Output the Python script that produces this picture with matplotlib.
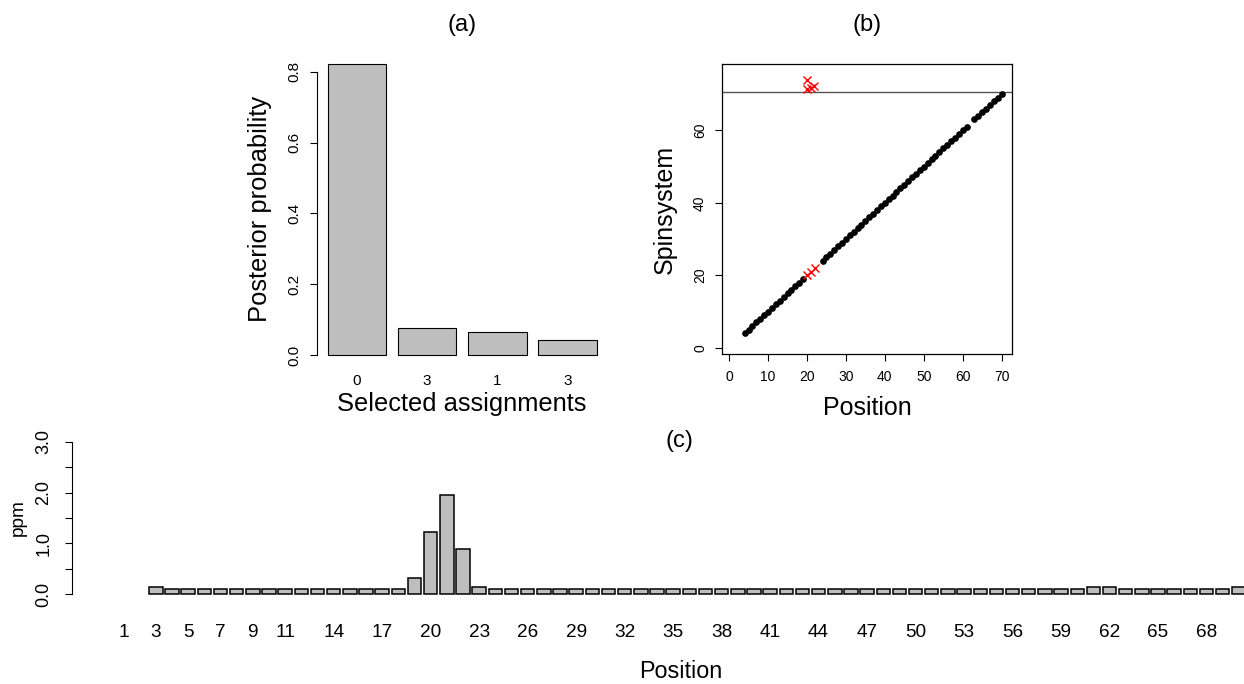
import numpy as np
import matplotlib
matplotlib.use("Agg")
import matplotlib.pyplot as plt

plt.rcParams['font.family'] = ['Liberation Sans', 'DejaVu Sans']

# ---------------- data ----------------
# (a) posterior probabilities of selected assignments
assign_labels = ["0", "3", "1", "3"]
posterior = [0.821, 0.075, 0.066, 0.041]

# (b) assignment of spinsystems to positions
black_pos = [4, 5, 6, 7, 8, 9, 10, 11, 12, 13, 14, 15, 16, 17, 18, 19,
             24, 25, 26, 27, 28, 29, 30, 31, 32, 33, 34, 35, 36, 37, 38, 39,
             40, 41, 42, 43, 44, 45, 46, 47, 48, 49, 50, 51, 52, 53, 54, 55,
             56, 57, 58, 59, 60, 61, 63, 64, 65, 66, 67, 68, 69, 70]
black_spin = [4, 5, 6, 7, 8, 9, 10, 11, 12, 13, 14, 15, 16, 17, 18, 19,
              24, 25, 26, 27, 28, 29, 30, 31, 32, 33, 34, 35, 36, 37, 38, 39,
              40, 41, 42, 43, 44, 45, 46, 47, 48, 49, 50, 51, 52, 53, 54, 55,
              56, 57, 58, 59, 60, 61, 63, 64, 65, 66, 67, 68, 69, 70]
red_pos = [20, 21, 22, 20, 20, 21, 21.7]
red_spin = [20, 21, 22, 74.0, 71.3, 71.6, 72.2]
cutoff = 70.5

# (c) chemical shift deviation per position (ppm)
positions = list(range(1, 71))
ppm = [np.nan, np.nan, 0.15,
       0.1, 0.1, 0.1, 0.1, 0.1, 0.1, 0.1, 0.1, 0.1, 0.1, 0.1, 0.1, 0.1, 0.1, 0.1,
       0.32, 1.22, 1.96, 0.90, 0.15,
       0.1, 0.1, 0.1, 0.1, 0.1, 0.1, 0.1, 0.1, 0.1, 0.1, 0.1, 0.1, 0.1, 0.1, 0.1,
       0.1, 0.1, 0.1, 0.1, 0.1, 0.1, 0.1, 0.1, 0.1, 0.1, 0.1, 0.1, 0.1, 0.1, 0.1,
       0.1, 0.1, 0.1, 0.1, 0.1, 0.1, 0.1,
       0.15, 0.15,
       0.1, 0.1, 0.1, 0.1, 0.1, 0.1, 0.1,
       0.15]
shown_pos_labels = [1, 3, 5, 7, 9, 11, 14, 17, 20, 23, 26, 29, 32, 35, 38, 41,
                    44, 47, 50, 53, 56, 59, 62, 65, 68]

# ---------------- layout helpers ----------------
W, H = 1244, 684
fig = plt.figure(figsize=(W / 100, H / 100), dpi=100)


def px_axes(x0, y0, x1, y1):
    return fig.add_axes([x0 / W, 1 - y1 / H, (x1 - x0) / W, (y1 - y0) / H])


def ftext(x, y, s, **kw):
    fig.text(x / W, 1 - y / H, s, **kw)


GREY = '#BEBEBE'

# ---------------- (a) ----------------
axa = px_axes(316.9, 52.6, 607.5, 366.6)
xa = 0.7 + 1.2 * np.arange(len(posterior))
axa.bar(xa, posterior, width=1.0, color=GREY, edgecolor='black', linewidth=0.8)
axa.set_xlim(0.016, 4.984)
axa.set_ylim(-0.0328, 0.854)
for s in ['top', 'right', 'bottom']:
    axa.spines[s].set_visible(False)
axa.spines['left'].set_bounds(0, 0.8)
axa.spines['left'].set_linewidth(0.8)
axa.set_yticks([0, 0.2, 0.4, 0.6, 0.8])
axa.set_yticklabels(["0.0", "0.2", "0.4", "0.6", "0.8"], rotation=90, va='center')
axa.tick_params(axis='y', length=5, width=0.8, labelsize=11, pad=6)
axa.set_xticks(xa)
axa.set_xticklabels(assign_labels)
axa.tick_params(axis='x', length=0, labelsize=11, pad=5)
ftext(260, 209, "Posterior probability", rotation=90, ha='center', va='center', fontsize=18.4)
ftext(462, 411, "Selected assignments", ha='center', va='baseline', fontsize=18.4)
ftext(462, 25, "(a)", ha='center', va='center', fontsize=17)

# ---------------- (b) ----------------
axb = px_axes(722.3, 64.3, 1012.3, 354.3)
axb.axhline(cutoff, color='#555555', linewidth=1.0, zorder=1)
axb.plot(black_pos, black_spin, 'o', color='black', markersize=3.8, zorder=3)
axb.plot(red_pos, red_spin, 'x', color='red', markersize=5.5, markeredgewidth=1.0, zorder=4)
axb.set_xlim(-1.76, 72.76)
axb.set_ylim(-1.8, 78.2)
for s in axb.spines.values():
    s.set_linewidth(0.9)
axb.set_xticks([0, 10, 20, 30, 40, 50, 60, 70])
axb.set_yticks([0, 20, 40, 60])
axb.set_yticklabels(["0", "20", "40", "60"], rotation=90, va='center')
axb.tick_params(axis='x', length=5, width=0.8, labelsize=10, pad=6.5)
axb.tick_params(axis='y', length=5, width=0.8, labelsize=10, pad=6)
ftext(665, 209, "Spinsystem", rotation=90, ha='center', va='center', fontsize=18)
ftext(867, 415, "Position", ha='center', va='baseline', fontsize=18)
ftext(867, 25, "(b)", ha='center', va='center', fontsize=17)

# ---------------- (c) ----------------
axc = px_axes(71.7, 435.6, 1244, 600.4)
xc = 0.7 + 1.2 * np.arange(len(positions))
ppm_arr = np.array(ppm, dtype=float)
mask = ~np.isnan(ppm_arr)
axc.bar(xc[mask], ppm_arr[mask], width=1.0, color=GREY, edgecolor='black', linewidth=1.1)
axc.set_xlim(-3.15, 83.88)
axc.set_ylim(-0.12, 3.12)
for s in ['top', 'right', 'bottom']:
    axc.spines[s].set_visible(False)
axc.spines['left'].set_bounds(0, 3)
axc.spines['left'].set_linewidth(0.8)
axc.set_yticks([0, 0.5, 1.0, 1.5, 2.0, 2.5, 3.0])
axc.set_yticklabels(["0.0", "", "1.0", "", "2.0", "", "3.0"], rotation=90, va='center')
axc.tick_params(axis='y', length=5, width=0.8, labelsize=13, pad=9)
idx = [positions.index(p) for p in shown_pos_labels]
axc.set_xticks(xc[idx])
axc.set_xticklabels([str(p) for p in shown_pos_labels])
axc.tick_params(axis='x', length=0, labelsize=13.7, pad=17)
ftext(18, 518, "ppm", rotation=90, ha='center', va='center', fontsize=13.7)
ftext(681, 678, "Position", ha='center', va='baseline', fontsize=16.8)
ftext(679, 441, "(c)", ha='center', va='center', fontsize=17)

fig.savefig("out.png", dpi=100)
